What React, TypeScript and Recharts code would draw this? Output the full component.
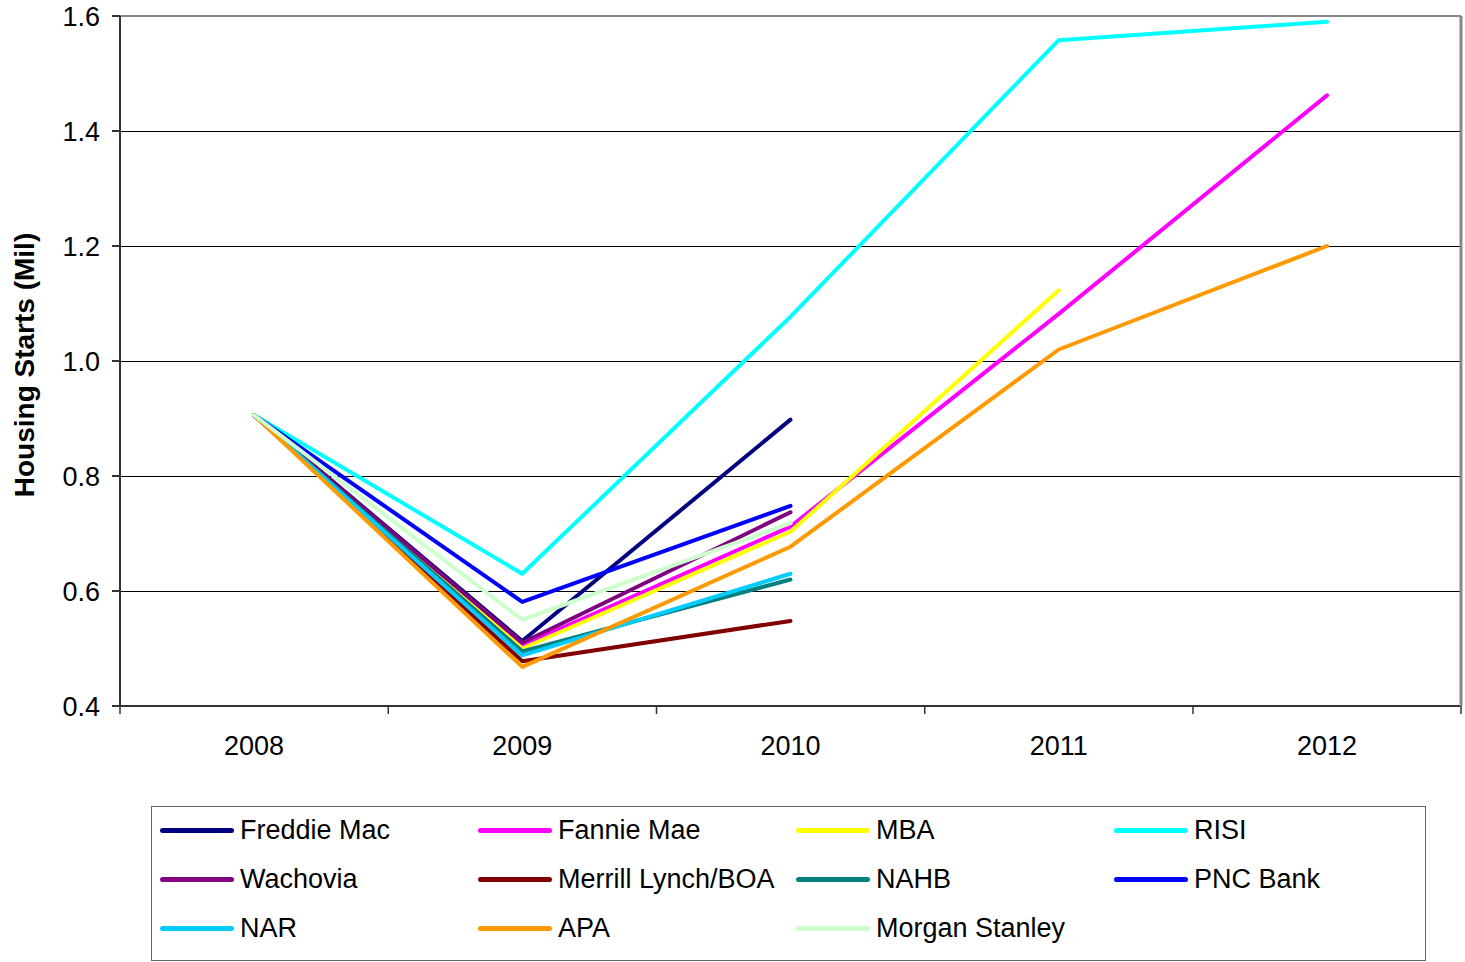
import { LineChart, Line, XAxis, YAxis, CartesianGrid, ReferenceLine } from "recharts"

const years = ["2008", "2009", "2010", "2011", "2012"]

const freddieMac = [0.906, 0.513, 0.898, null, null]
const fannieMae = [0.906, 0.505, 0.712, 1.082, 1.462]
const mba = [0.906, 0.5, 0.703, 1.123, null]
const risi = [0.906, 0.63, 1.077, 1.558, 1.59]
const wachovia = [0.906, 0.51, 0.737, null, null]
const merrillLynch = [0.906, 0.478, 0.548, null, null]
const nahb = [0.906, 0.495, 0.62, null, null]
const pncBank = [0.906, 0.581, 0.748, null, null]
const nar = [0.906, 0.488, 0.63, null, null]
const apa = [0.906, 0.468, 0.677, 1.02, 1.2]
const morganStanley = [0.906, 0.55, 0.718, null, null]

const yTicks = [0.4, 0.6, 0.8, 1.0, 1.2, 1.4, 1.6]

const series = [
  { key: "freddieMac", name: "Freddie Mac", color: "#000080", values: freddieMac },
  { key: "fannieMae", name: "Fannie Mae", color: "#FF00FF", values: fannieMae },
  { key: "mba", name: "MBA", color: "#FFFF00", values: mba },
  { key: "risi", name: "RISI", color: "#00FFFF", values: risi },
  { key: "wachovia", name: "Wachovia", color: "#800080", values: wachovia },
  { key: "merrillLynch", name: "Merrill Lynch/BOA", color: "#800000", values: merrillLynch },
  { key: "nahb", name: "NAHB", color: "#008080", values: nahb },
  { key: "pncBank", name: "PNC Bank", color: "#0000FF", values: pncBank },
  { key: "nar", name: "NAR", color: "#00CCFF", values: nar },
  { key: "apa", name: "APA", color: "#FF9900", values: apa },
  { key: "morganStanley", name: "Morgan Stanley", color: "#CCFFCC", values: morganStanley },
]

const data = years.map((year, i) => {
  const row: any = { year }
  series.forEach((s) => {
    row[s.key] = s.values[i]
  })
  return row
})

const FONT = "'Liberation Sans', Arial, sans-serif"
const HALF_BAND = 134

// year label plus the tick marks that sit between categories
const YearTick = (props: any) => {
  const { x, y, payload, index } = props
  return (
    <g>
      <line x1={x - HALF_BAND} y1={y} x2={x - HALF_BAND} y2={y + 8} stroke="#333" strokeWidth={1.5} />
      {index === years.length - 1 && (
        <line x1={x + HALF_BAND} y1={y} x2={x + HALF_BAND} y2={y + 8} stroke="#333" strokeWidth={1.5} />
      )}
      <text x={x} y={y + 49} textAnchor="middle" fontSize={27} fill="#000" fontFamily={FONT}>
        {payload.value}
      </text>
    </g>
  )
}

export default function App() {
  return (
    <div style={{ position: "absolute", left: 0, top: 0, width: 1465, height: 962, background: "#fff", fontFamily: FONT }}>
      <LineChart
        width={1465}
        height={962}
        data={data}
        margin={{ top: 16, right: 0, left: 0, bottom: 0 }}
      >
        <CartesianGrid horizontal vertical={false} stroke="#000" strokeWidth={1} shapeRendering="crispEdges" />
        <ReferenceLine y={1.6} stroke="#888" strokeWidth={2} />
        <XAxis
          dataKey="year"
          height={256}
          padding={{ left: HALF_BAND, right: HALF_BAND }}
          tick={<YearTick />}
          tickLine={false}
          tickSize={0}
          tickMargin={0}
          stroke="#333"
          strokeWidth={2}
          interval={0}
        />
        <YAxis
          yAxisId={0}
          width={120}
          domain={[0.4, 1.6]}
          ticks={yTicks}
          tickFormatter={(v: number) => v.toFixed(1)}
          tick={{ fontSize: 27, fill: "#000", fontFamily: FONT }}
          tickSize={8}
          tickMargin={12}
          stroke="#333"
          strokeWidth={2}
          label={() => (
            <text
              transform="translate(34,365) rotate(-90)"
              textAnchor="middle"
              fontSize={28}
              fontWeight="bold"
              fill="#000"
              fontFamily={FONT}
            >
              Housing Starts (Mil)
            </text>
          )}
        />
        <YAxis yAxisId="right" orientation="right" width={4} domain={[0.4, 1.6]} tick={false} tickLine={false} stroke="#888" strokeWidth={3} />
        {series.map((s) => (
          <Line
            key={s.key}
            type="linear"
            dataKey={s.key}
            name={s.name}
            stroke={s.color}
            strokeWidth={4}
            strokeLinecap="round"
            strokeLinejoin="round"
            dot={false}
            activeDot={false}
            isAnimationActive={false}
          />
        ))}
      </LineChart>

      <div
        style={{
          position: "absolute",
          left: 151,
          top: 806,
          width: 1275,
          height: 155,
          border: "1px solid #666",
          boxSizing: "border-box",
        }}
      >
        {series.map((s, i) => {
          const col = i % 4
          const row = Math.floor(i / 4)
          return (
            <div
              key={s.key}
              style={{
                position: "absolute",
                left: 8 + col * 318,
                top: 6 + row * 49,
                height: 34,
                display: "flex",
                alignItems: "center",
                whiteSpace: "nowrap",
              }}
            >
              <span style={{ display: "inline-block", width: 74, height: 5, borderRadius: 3, background: s.color, marginRight: 6 }} />
              <span style={{ fontSize: 27, color: "#000" }}>{s.name}</span>
            </div>
          )
        })}
      </div>
    </div>
  )
}
